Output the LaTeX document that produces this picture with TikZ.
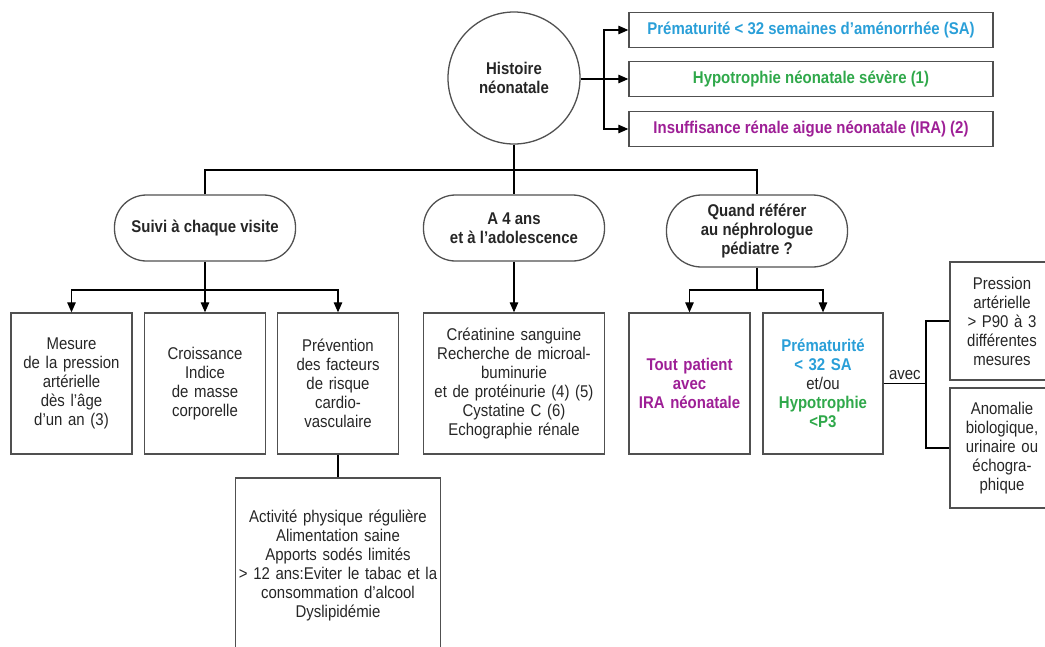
\documentclass[tikz,border=0pt]{standalone}
\usepackage{fontspec}
\setmainfont{Liberation Sans}[FakeStretch=0.88]
\usetikzlibrary{arrows.meta}
\definecolor{bleu}{HTML}{2A9FD8}
\definecolor{vert}{HTML}{2FA84A}
\definecolor{violet}{HTML}{9E1F96}
\definecolor{trait}{HTML}{505050}
\definecolor{texte}{HTML}{262626}

\begin{document}
\begin{tikzpicture}[x=1pt, y=-1pt, line width=1.2pt,
    every node/.style={font=\fontsize{17}{19}\selectfont, text=texte, align=center},
    gras/.style={font=\fontsize{17}{19}\selectfont\bfseries},
    boite/.style={draw=trait, line width=1.3pt, inner sep=2pt, minimum height=141pt},
    ligne/.style={gras, draw=trait, line width=1.3pt, minimum width=364pt, minimum height=35pt},
    rond/.style={gras, draw=trait, line width=1.3pt, rounded corners=32pt, minimum height=66pt, minimum width=181pt},
    fl/.style={-{Triangle[length=10pt,width=8.5pt]}}]
    \useasboundingbox (0,0) rectangle (1045,646);

    % histoire
    \node[gras, circle, draw=trait, line width=1.3pt, minimum size=132pt] (hist) at (514,78) {Histoire\\néonatale};
    \node[ligne, text=bleu] (prem) at (811,30) {Prématurité < 32 semaines d'aménorrhée (SA)};
    \node[ligne, text=vert] (hypo) at (811,79) {Hypotrophie néonatale sévère (1)};
    \node[ligne, text=violet] (ira) at (811,129) {Insuffisance rénale aigue néonatale (IRA) (2)};

    % suivi
    \node[rond] (suivi) at (205,228) {Suivi à chaque visite};
    \node[rond] (ado) at (514,228) {A 4 ans\\et à l'adolescence};
    \node[rond, minimum height=72pt, rounded corners=35pt] (quand) at (757,231) {Quand référer\\au néphrologue\\pédiatre ?};

    \node[boite, text width=117pt] (mesure) at (71.5,383.5) {Mesure\\de la pression\\artérielle\\dès l'âge\\d'un an (3)};
    \node[boite, text width=117pt] (crois) at (205,383.5) {Croissance\\Indice\\de masse\\corporelle};
    \node[boite, text width=117pt] (prev) at (338,383.5) {Prévention\\des facteurs\\de risque\\cardio-\\vasculaire};
    \node[boite, text width=177pt] (crea) at (514,383.5) {Créatinine sanguine\\Recherche de microal-\\buminurie\\et de protéinurie (4) (5)\\Cystatine C (6)\\Echographie rénale};
    \node[boite, text width=201pt, minimum height=174pt] (act) at (338,565) {Activité physique régulière\\Alimentation saine\\Apports sodés limités\\> 12 ans:Eviter le tabac et la\\consommation d'alcool\\Dyslipidémie};

    % referer
    \node[boite, gras, text=violet, text width=117pt] (tout) at (689.5,383.5) {Tout patient\\avec\\IRA néonatale};
    \node[boite, text width=116pt] (premb) at (823,383.5) {\textcolor{bleu}{\bfseries Prématurité}\\\textcolor{bleu}{\bfseries < 32 SA}\\et/ou\\\textcolor{vert}{\bfseries Hypotrophie}\\\textcolor{vert}{\bfseries <P3}};
    \node[boite, text width=100pt, minimum height=118pt] (press) at (1002,321) {Pression\\artérielle\\> P90 à 3\\différentes\\mesures};
    \node[boite, text width=100pt, minimum height=120pt] (anom) at (1002,448) {Anomalie\\biologique,\\urinaire ou\\échogra-\\phique};

    \coordinate (b1) at (604,79);
    \coordinate (bus) at (514,170);
    \coordinate (b2) at (205,290);
    \coordinate (b3) at (757,290);
    \coordinate (j) at (926,383.5);

    \draw[fl] (hist.east |- hypo) -- (hypo.west);
    \draw[fl] (b1) |- (prem.west);
    \draw[fl] (b1) |- (ira.west);

    \draw (suivi.north) |- (bus) -| (quand.north);
    \draw (hist.south) -- (ado.north);

    \draw[fl] (suivi.south) -- (crois.north);
    \draw[fl] (b2) -| (mesure.north);
    \draw[fl] (b2) -| (prev.north);
    \draw (prev.south) -- (act.north);
    \draw[fl] (ado.south) -- (crea.north);

    \draw (quand.south) -- (b3);
    \draw[fl] (b3) -| (tout.north);
    \draw[fl] (b3) -| (premb.north);
    \draw (premb.east) -- node[above]{avec} (j);
    \draw (press.west) -| (j) |- (anom.west);
\end{tikzpicture}
\end{document}
